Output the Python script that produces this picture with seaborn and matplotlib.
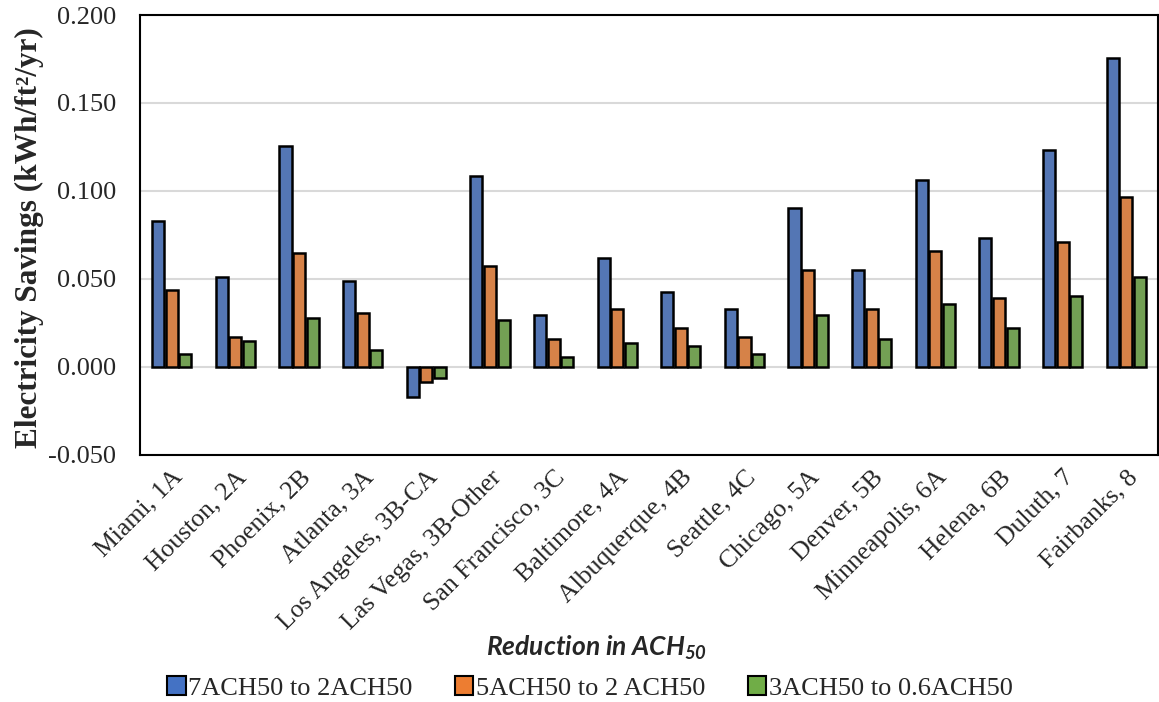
import matplotlib
matplotlib.use("Agg")
import matplotlib.pyplot as plt
import seaborn as sns
import pandas as pd
from matplotlib.patches import Patch
from matplotlib.ticker import FormatStrFormatter

cities = ["Miami, 1A", "Houston, 2A", "Phoenix, 2B", "Atlanta, 3A", "Los Angeles, 3B-CA",
          "Las Vegas, 3B-Other", "San Francisco, 3C", "Baltimore, 4A", "Albuquerque, 4B",
          "Seattle, 4C", "Chicago, 5A", "Denver, 5B", "Minneapolis, 6A", "Helena, 6B",
          "Duluth, 7", "Fairbanks, 8"]
series_names = ["7ACH50 to 2ACH50", "5ACH50 to 2 ACH50", "3ACH50 to 0.6ACH50"]
s7_to_2 = [0.083, 0.0513, 0.1258, 0.0489, -0.0172, 0.1087, 0.0294, 0.0621,
           0.0426, 0.033, 0.0903, 0.055, 0.1063, 0.0733, 0.1233, 0.1758]
s5_to_2 = [0.0437, 0.017, 0.0648, 0.0307, -0.0085, 0.0574, 0.0159, 0.033,
           0.022, 0.017, 0.055, 0.033, 0.0659, 0.0392, 0.0708, 0.0964]
s3_to_06 = [0.0074, 0.0146, 0.028, 0.0098, -0.0061, 0.0267, 0.0059, 0.0134,
            0.0121, 0.0074, 0.0294, 0.0159, 0.0356, 0.022, 0.0403, 0.0513]
colors = ["#4472C4", "#ED7D31", "#70AD47"]

rows = []
for name, vals in zip(series_names, [s7_to_2, s5_to_2, s3_to_06]):
    for c, v in zip(cities, vals):
        rows.append({"city": c, "value": v, "series": name})
df = pd.DataFrame(rows)

sns.set_style("white")
plt.rcParams["font.family"] = ["Liberation Serif", "DejaVu Serif"]
plt.rcParams["axes.unicode_minus"] = False
plt.rcParams["mathtext.fontset"] = "custom"
plt.rcParams["mathtext.it"] = "Lato:italic:bold"
plt.rcParams["mathtext.rm"] = "Lato:italic:bold"

fig = plt.figure(figsize=(11.59, 7.02), dpi=100)
ax = fig.add_axes([0.1208, 0.352, 0.8784, 0.6266])

sns.barplot(data=df, x="city", y="value", hue="series", palette=colors,
            width=0.64, gap=0.11, edgecolor="black", linewidth=1.8,
            order=cities, hue_order=series_names, ax=ax, legend=False, zorder=3)

ax.set_ylim(-0.05, 0.2)
ax.set_yticks([-0.05, 0.0, 0.05, 0.1, 0.15, 0.2])
ax.yaxis.set_major_formatter(FormatStrFormatter("%.3f"))
ax.grid(axis="y", color="#d9d9d9", linewidth=1.5, zorder=0)
ax.set_axisbelow(True)
ax.tick_params(axis="both", length=0, labelsize=19)
ax.tick_params(axis="y", pad=17)
ax.set_xticks(range(len(cities)))
ax.set_xticklabels(cities, rotation=45, ha="right", rotation_mode="anchor", fontsize=18.5)
ax.tick_params(axis="x", pad=8)
for s in ax.spines.values():
    s.set_color("black")
    s.set_linewidth(1.5)
ax.set_xlabel("")
ax.set_ylabel("Electricity Savings (kWh/ft\u00b2/yr)", fontsize=22.5, fontweight="bold")
ax.yaxis.set_label_coords(-0.094, 0.495)

fig.text(0.515, 0.077, "Reduction in ACH$_{50}$", ha="center", va="center", fontsize=19,
         fontweight="bold", fontstyle="italic", family=["Lato", "DejaVu Sans"])

handles = [Patch(facecolor=c, edgecolor="black", linewidth=1.5) for c in colors]
fig.legend(handles, series_names, loc="center", bbox_to_anchor=(0.509, 0.02), ncol=3,
           frameon=False, fontsize=19, handlelength=0.7, handleheight=0.7,
           handletextpad=0.1, columnspacing=1.6, borderaxespad=0)

fig.savefig("out.png", dpi=100)
